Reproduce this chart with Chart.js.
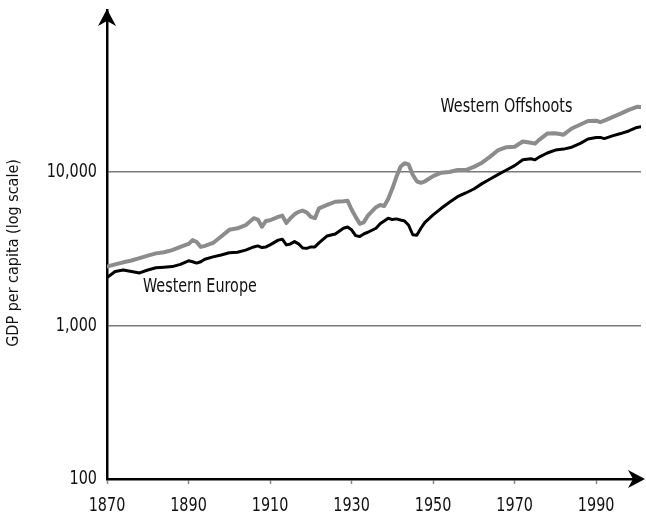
<!DOCTYPE html>
<html>
<head>
<meta charset="utf-8">
<script src="https://cdn.jsdelivr.net/npm/chart.js@4.4.0/dist/chart.umd.min.js"></script>
<style>
  html, body { margin: 0; padding: 0; background: #fff; }
</style>
</head>
<body>
<canvas id="gdpChart" width="646" height="518"></canvas>
<script>
// GDP per capita, log scale
const years = [
  1870, 1872, 1874, 1876, 1878, 1880, 1882, 1884, 1886, 1888,
  1890, 1891, 1892, 1893, 1894, 1896, 1898, 1900, 1902, 1904,
  1906, 1907, 1908, 1909, 1910, 1912, 1913, 1914, 1915, 1916,
  1917, 1918, 1919, 1920, 1921, 1922, 1924, 1926, 1928, 1929,
  1930, 1931, 1932, 1933, 1934, 1936, 1937, 1938, 1939, 1940,
  1941, 1942, 1943, 1944, 1945, 1946, 1947, 1948, 1950, 1952,
  1954, 1956, 1958, 1960, 1962, 1964, 1966, 1968, 1970, 1972,
  1974, 1975, 1976, 1978, 1980, 1982, 1984, 1986, 1988, 1990,
  1991, 1992, 1994, 1996, 1998, 2000, 2001
];

const westernOffshoots = [
  2420, 2500, 2580, 2650, 2750, 2850, 2950, 3000, 3100, 3250,
  3400, 3600, 3500, 3250, 3300, 3450, 3800, 4200, 4300, 4500,
  5000, 4900, 4400, 4800, 4850, 5100, 5200, 4650, 5000, 5300,
  5500, 5600, 5450, 5100, 5000, 5800, 6100, 6400, 6450, 6500,
  5700, 5100, 4600, 4700, 5200, 5900, 6100, 6000, 6700, 7800,
  9300, 10800, 11400, 11200, 9600, 8700, 8500, 8700, 9400, 9900,
  10000, 10300, 10300, 10800, 11500, 12600, 13900, 14500, 14600, 15800,
  15500, 15300, 16200, 17800, 17900, 17500, 19200, 20300, 21500, 21600,
  21100, 21600, 22800, 24000, 25400, 26600, 26500
];

const westernEurope = [
  2050, 2250, 2300, 2250, 2200, 2300, 2380, 2400, 2420, 2500,
  2640, 2600, 2550, 2600, 2700, 2800, 2880, 2980, 3000, 3100,
  3250, 3300, 3220, 3250, 3350, 3600, 3650, 3350, 3400, 3520,
  3400, 3200, 3180, 3250, 3250, 3450, 3830, 3950, 4300, 4380,
  4200, 3850, 3800, 3950, 4050, 4300, 4600, 4800, 5000, 4900,
  4950, 4870, 4800, 4500, 3900, 3870, 4300, 4700, 5250, 5800,
  6350, 6900, 7300, 7750, 8400, 9000, 9650, 10300, 11000, 12000,
  12200, 12000, 12500, 13300, 13900, 14100, 14500, 15300, 16400, 16800,
  16800, 16500, 17200, 17800, 18500, 19500, 19700
];

const seriesNames = ["Western Offshoots", "Western Europe"];
const xTickYears = [1870, 1890, 1910, 1930, 1950, 1970, 1990];
const yTickValues = [100, 1000, 10000];

const fontFamily = '"Liberation Sans Narrow", "DejaVu Sans Condensed", "Arial Narrow", sans-serif';

// text labels placed next to the lines, in data units
const lineLabels = [
  { text: seriesNames[0], year: 1968, value: 26500 },
  { text: seriesNames[1], year: 1892.8, value: 1790 }
];

const toPoints = (values) => values.map((v, i) => ({ x: years[i], y: v }));

// draw text squeezed sideways, the reference uses a condensed face
const narrowText = (ctx, text, x, y, size, squeeze, align) => {
  ctx.save();
  ctx.font = size + "px " + fontFamily;
  ctx.textAlign = align;
  ctx.textBaseline = "middle";
  ctx.translate(x, y);
  ctx.scale(squeeze, 1);
  ctx.fillText(text, 0, 0);
  ctx.restore();
};

const axisExtras = {
  id: "axisExtras",
  afterDraw(chart) {
    const ctx = chart.ctx;
    const area = chart.chartArea;
    const xs = chart.scales.x;
    const ys = chart.scales.y;
    ctx.save();
    ctx.fillStyle = "#000";
    ctx.strokeStyle = "#000";
    ctx.lineWidth = 2.5;

    // extend x axis to the arrow
    ctx.beginPath();
    ctx.moveTo(area.right - 2, area.bottom);
    ctx.lineTo(chart.width - 6, area.bottom);
    ctx.stroke();

    // up arrow on y axis
    const ax = area.left;
    const ay = area.top - 1;
    ctx.beginPath();
    ctx.moveTo(ax, ay);
    ctx.lineTo(ax - 9, ay + 17);
    ctx.lineTo(ax, ay + 12);
    ctx.lineTo(ax + 9, ay + 17);
    ctx.closePath();
    ctx.fill();

    // right arrow on x axis
    const bx = chart.width - 1;
    const by = area.bottom;
    ctx.beginPath();
    ctx.moveTo(bx, by);
    ctx.lineTo(bx - 17, by - 9);
    ctx.lineTo(bx - 12, by);
    ctx.lineTo(bx - 17, by + 9);
    ctx.closePath();
    ctx.fill();

    ctx.fillStyle = "#111";

    // tick labels
    xTickYears.forEach(yr => {
      narrowText(ctx, String(yr), xs.getPixelForValue(yr), area.bottom + 27, 20, 0.8, "center");
    });
    yTickValues.forEach(v => {
      narrowText(ctx, v.toLocaleString("en-US"), area.left - 10, ys.getPixelForValue(v), 20, 0.8, "right");
    });

    // line labels
    lineLabels.forEach(label => {
      narrowText(ctx, label.text, xs.getPixelForValue(label.year), ys.getPixelForValue(label.value), 19, 0.84, "center");
    });

    // y axis title
    ctx.translate(14, 253);
    ctx.rotate(-Math.PI / 2);
    narrowText(ctx, "GDP per capita (log scale)", 0, 0, 16, 1, "center");
    ctx.restore();
  }
};

const chart = new Chart(document.getElementById("gdpChart"), {
  type: "line",
  data: {
    datasets: [
      {
        label: seriesNames[0],
        data: toPoints(westernOffshoots),
        borderColor: "#8c8c8c",
        borderWidth: 4,
        pointRadius: 0,
        tension: 0,
        borderJoinStyle: "round",
        borderCapStyle: "round",
        order: 2
      },
      {
        label: seriesNames[1],
        data: toPoints(westernEurope),
        borderColor: "#000",
        borderWidth: 3,
        pointRadius: 0,
        tension: 0,
        borderJoinStyle: "round",
        borderCapStyle: "round",
        order: 1
      }
    ]
  },
  options: {
    responsive: false,
    animation: false,
    layout: { padding: { top: 10, right: 5, left: 0, bottom: 0 } },
    plugins: {
      legend: { display: false },
      tooltip: { enabled: false }
    },
    scales: {
      x: {
        type: "linear",
        min: 1870,
        max: 2001,
        afterBuildTicks: scale => { scale.ticks = xTickYears.map(v => ({ value: v })); },
        afterFit: scale => { scale.height = 39; },
        ticks: { display: false },
        grid: {
          drawOnChartArea: false,
          drawTicks: true,
          tickLength: 5,
          tickColor: "#888",
          tickWidth: 1.5
        },
        border: { color: "#000", width: 2.5 }
      },
      y: {
        type: "logarithmic",
        min: 100,
        max: 113600,
        afterBuildTicks: scale => { scale.ticks = yTickValues.map(v => ({ value: v })); },
        afterFit: scale => { scale.width = 107; },
        ticks: { display: false },
        grid: {
          drawTicks: false,
          color: ctx => (ctx.tick && ctx.tick.value === 100 ? "rgba(0,0,0,0)" : "#7a7a7a"),
          lineWidth: 1.5
        },
        border: { color: "#000", width: 2.5 }
      }
    }
  },
  plugins: [axisExtras]
});
</script>
</body>
</html>
